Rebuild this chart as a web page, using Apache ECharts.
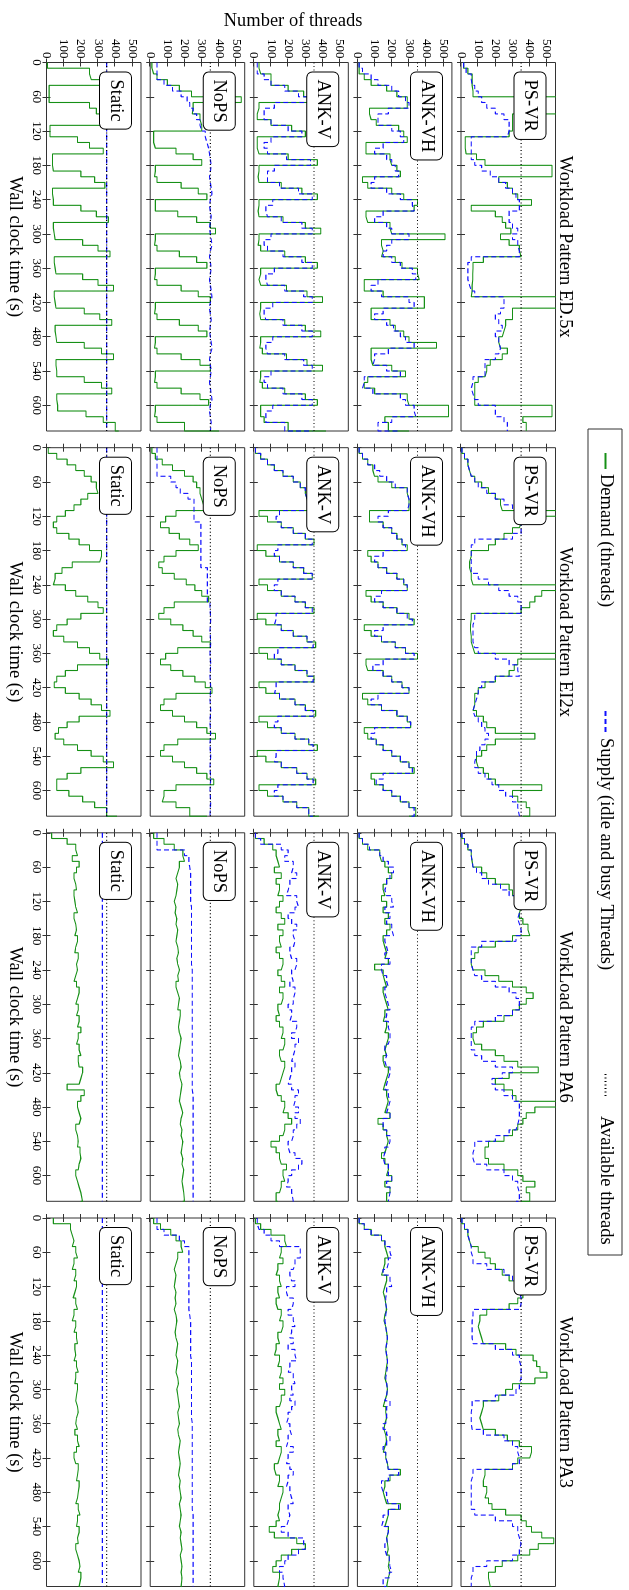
<!DOCTYPE html>
<html>
<head>
<meta charset="utf-8">
<script src="https://cdn.jsdelivr.net/npm/echarts@6/dist/echarts.min.js"></script>
<style>
  html, body { margin: 0; padding: 0; background: #fff; overflow: hidden; }
  body { width: 629px; height: 1590px; position: relative; }
  /* the figure is drawn landscape and turned a quarter clockwise */
  #main {
    position: absolute; left: 0; top: 0;
    width: 1590px; height: 629px;
    transform-origin: 0 0;
    transform: translate(629px, 0) rotate(90deg);
  }
</style>
</head>
<body>
<div id="main"></div>
<script>
// sample times (s)
const seconds = [0,10,20,30,40,50,60,70,80,90,
  100,110,120,130,140,150,160,170,180,190,
  200,210,220,230,240,250,260,270,280,290,
  300,310,320,330,340,350,360,370,380,390,
  400,410,420,430,440,450,460,470,480,490,
  500,510,520,530,540,550,560,570,580,590,
  600,610,620,630,645];
const timeTicks = [0,60,120,180,240,300,360,420,480,540,600];
const threadTicks = [0,100,200,300,400,500];
const lineTimes = [0, 645];
const availableThreads = [350, 350];
const staticSupplyED = [350, 350];
const staticSupplyEI = [350, 350];
const staticSupplyPA6 = [325, 325];
const staticSupplyPA3 = [325, 325];

const patterns = ['Workload Pattern ED.5x', 'Workload Pattern EI2x', 'WorkLoad Pattern PA6', 'WorkLoad Pattern PA3'];
const strategies = ['PS-VR', 'ANK-VH', 'ANK-V', 'NoPS', 'Static'];

// ---- Workload Pattern ED.5x
const edPsvrDemand = [15,40,65,65,70,70,560,560,560,300, 300,300,280,25,25,30,90,140,530,530,
  220,270,300,330,410,60,200,240,260,290, 230,280,340,350,130,70,68,68,65,65,
  60,560,560,300,300,260,250,240,220,230, 270,240,170,150,140,100,80,80,80,80, 530,530,360,380,380];
const edPsvrSupply = [15,30,60,65,80,100,120,150,200,250, 280,280,270,60,60,60,60,80,120,170,
  220,260,300,320,340,340,280,280,300,330, 300,330,340,340,60,40,40,40,50,60,
  80,250,250,230,200,220,240,200,220,230, 220,200,140,140,140,70,60,70,80,100, 200,200,250,270,270];
const edAnkvhDemand = [10,10,40,80,170,230,290,290,70,80, 110,240,270,290,50,50,190,200,230,250,
  30,60,200,270,350,330,50,60,190,200, 510,140,150,140,220,260,350,360,40,40,
  150,390,390,80,80,190,220,270,300,460, 80,80,90,200,280,60,40,100,290,300, 530,530,160,180,300];
const edAnkvhSupply = [10,30,80,120,200,240,280,300,180,120, 120,200,250,270,150,100,170,200,220,240,
  100,80,170,250,320,330,150,100,170,200, 300,200,170,150,200,250,320,340,120,80,
  140,300,330,150,100,170,210,250,280,330, 180,100,90,170,250,40,30,90,250,280, 330,340,200,120,250];
const edAnkvDemand = [30,40,100,100,200,290,380,30,20,20, 100,220,300,20,20,30,200,370,30,25,
  30,160,280,370,30,25,30,170,300,390, 30,25,40,180,300,370,40,30,40,190,
  310,400,40,35,40,180,300,390,40,35, 50,190,310,400,40,35,50,180,300,370, 40,40,60,200,420];
const edAnkvSupply = [20,20,60,100,180,260,320,120,60,60, 100,200,280,100,60,80,190,330,120,80,
  80,150,260,340,110,70,80,160,280,340, 100,60,80,170,280,340,120,70,80,180,
  290,340,110,60,70,170,280,340,110,70, 80,180,290,340,100,60,80,170,280,340, 110,70,70,180,340];
const edNopsDemand = [10,20,40,100,170,240,530,250,245,290, 300,300,20,20,30,150,250,300,30,25,
  40,180,280,330,30,30,160,270,350,380, 30,25,40,170,270,330,30,25,40,180,
  280,350,30,25,40,170,280,330,30,25, 40,180,290,350,30,25,40,180,290,340, 30,25,40,200,400];
const edNopsSupply = [40,40,40,80,130,180,215,230,250,270, 290,300,320,330,340,345,350,355,350,345,
  350,355,360,350,345,350,355,350,345,350, 355,360,350,345,350,355,350,345,350,355,
  360,350,345,350,355,350,345,350,355,360, 350,345,350,355,350,345,350,355,360,350, 345,350,355,350,350];
const edStaticDemand = [5,250,260,330,15,15,15,250,290,320, 340,20,20,180,250,330,35,35,40,200,
  280,340,35,40,40,200,290,360,40,45, 50,210,300,370,45,50,55,210,300,390,
  45,50,55,220,310,380,50,55,60,220, 320,390,55,60,60,220,320,380,60,65, 65,230,330,400,420];

// ---- Workload Pattern EI2x
const eiPsvrDemand = [5,20,40,50,60,80,120,160,200,230, 240,560,350,340,300,250,200,160,60,50,
  50,60,60,70,560,470,430,400,350,60, 55,55,60,60,70,80,560,330,310,280,
  200,140,100,80,80,70,90,130,150,200, 430,200,150,120,90,100,130,160,200,470, 300,330,380,400,360];
const eiPsvrSupply = [5,20,40,50,60,80,100,150,200,250, 300,340,350,350,350,300,80,60,60,60,
  60,60,100,160,220,280,330,350,350,80, 70,70,70,70,80,100,200,280,330,340,
  200,120,100,90,80,70,80,100,120,140, 160,140,110,90,80,80,100,140,180,220, 260,300,330,340,340];
const eiAnkvhDemand = [10,30,60,90,100,120,200,290,300,300, 300,70,70,150,200,230,260,290,60,80,
  120,170,230,270,290,50,80,150,230,300, 330,40,80,140,220,280,350,50,60,150,
  200,260,300,30,60,140,230,290,310,40, 60,110,150,200,250,300,330,80,100,150, 200,250,300,340,300];
const eiAnkvhSupply = [10,30,60,100,130,170,220,290,300,300, 290,180,120,150,200,230,260,280,150,100,
  120,170,230,270,290,140,100,150,230,290, 320,150,100,140,220,280,330,150,90,150,
  200,260,300,120,80,140,230,290,310,100, 80,110,150,200,250,300,320,150,110,150, 200,250,300,330,310];
const eiAnkvDemand = [10,40,80,120,170,230,270,300,310,320, 330,30,80,160,230,300,350,20,70,150,
  230,290,340,30,80,160,240,300,350,20, 70,160,230,310,360,30,80,160,240,310,
  350,30,70,150,240,300,360,30,80,160, 240,320,370,20,70,160,250,310,360,30, 80,170,250,320,380];
const eiAnkvSupply = [10,40,80,120,170,230,270,300,310,320, 330,150,130,160,230,300,340,140,120,150,
  230,290,340,140,120,160,240,300,340,130, 120,160,230,310,345,140,120,160,240,310,
  345,130,120,150,240,300,345,140,120,160, 240,320,345,130,120,160,250,310,345,140, 120,170,250,320,345];
const eiNopsDemand = [10,30,70,130,200,250,270,290,300,310, 320,150,90,60,110,170,230,280,150,80,
  50,70,140,210,260,300,340,140,80,50, 120,190,250,300,350,160,90,60,120,190,
  260,320,360,150,80,60,130,200,270,330, 380,160,80,60,130,200,270,330,370,150, 80,70,150,230,330];
const eiNopsSupply = [40,40,40,40,40,120,150,175,220,255, 255,255,255,295,295,295,295,295,295,295,
  295,333,333,333,333,333,333,348,350,352, 350,348,350,352,350,348,350,352,350,348,
  350,352,350,348,350,352,350,348,350,352, 350,348,350,352,350,348,350,352,350,348, 350,352,350,348,350];
const eiStaticDemand = [10,60,120,170,220,260,290,300,240,200, 160,110,60,40,60,130,190,250,320,310,
  150,90,50,40,110,170,240,300,330,200, 120,60,40,100,180,250,310,360,180,110,
  60,45,110,190,260,320,370,190,120,70, 50,100,180,260,330,390,200,120,60,60, 130,210,280,350,410];

// ---- WorkLoad Pattern PA6
const pa6PsvrDemand = [5,20,40,60,65,70,120,150,200,280, 300,330,350,340,340,360,390,400,300,200,
  100,80,60,70,140,220,300,380,420,380, 340,300,250,130,90,70,80,120,200,250,
  330,450,280,200,250,300,320,560,430,380, 360,330,300,250,160,140,140,160,250,330, 360,430,380,400,350];
const pa6PsvrSupply = [5,20,40,60,65,70,90,120,160,230, 280,320,340,340,330,340,350,350,320,120,
  60,60,60,70,80,120,200,280,320,340, 340,300,200,80,60,60,60,60,80,120,
  200,300,240,180,200,250,300,340,340,340, 330,320,280,200,80,70,70,80,150,250, 300,330,340,340,320];
const pa6AnkvhDemand = [10,30,60,130,140,160,180,200,170,150, 160,140,170,150,180,160,190,170,150,160,
  170,160,180,100,150,160,170,150,160,170, 180,160,150,170,160,180,170,160,170,150,
  160,180,170,160,150,170,180,170,160,190, 120,150,170,180,170,160,140,160,180,170, 200,160,190,170,180];
const pa6AnkvhSupply = [10,30,70,130,150,180,210,190,170,160, 170,200,210,160,190,170,200,210,160,170,
  180,160,190,140,150,170,180,160,170,180, 190,170,160,180,190,190,180,160,170,160,
  170,190,180,170,160,180,190,180,170,190, 150,150,170,190,180,160,150,160,180,180, 200,170,190,180,180];
const pa6AnkvDemand = [10,60,110,130,140,150,120,160,130,150, 140,170,150,130,160,180,140,170,150,160,
  130,150,170,160,140,160,180,150,170,160, 140,150,130,150,170,160,180,170,150,160,
  180,170,160,150,130,140,160,180,170,200, 220,180,170,150,100,130,150,160,190,170, 180,160,150,130,140];
const pa6AnkvSupply = [10,40,160,200,180,230,220,250,210,200, 190,250,260,240,200,220,250,230,240,230,
  210,220,250,240,220,230,210,240,230,230, 200,220,210,250,240,220,260,240,230,220,
  240,220,210,200,220,260,240,230,260,240, 270,250,230,220,200,210,240,280,260,220, 200,190,220,230,210];
const pa6NopsDemand = [20,80,140,190,200,170,160,150,160,155, 150,140,150,145,155,150,160,155,150,160,
  165,155,160,170,160,165,150,160,170,165, 160,175,170,165,170,180,175,170,165,175,
  180,170,175,185,180,175,170,180,190,180, 175,185,180,190,185,180,190,185,195,190, 185,190,195,200,190];
const pa6NopsSupply = [40,40,40,200,225,230,235,235,235,235, 235,235,240,240,240,240,240,240,240,240,
  240,240,240,245,245,245,245,245,245,245, 245,245,245,245,245,245,245,245,245,245,
  245,245,245,245,245,250,250,250,250,250, 250,250,250,250,250,250,250,250,250,250, 250,250,250,250,250];
const pa6StaticDemand = [30,120,170,180,150,190,175,160,170,175, 160,165,170,180,160,170,175,165,180,170,
  165,185,175,180,170,160,175,190,180,170, 185,175,190,180,200,185,175,190,200,185,
  190,210,200,190,120,220,200,180,190,200, 190,170,180,185,180,195,200,190,185,170, 180,190,200,210,200];

// ---- WorkLoad Pattern PA3
const pa3PsvrDemand = [5,20,40,50,60,100,140,170,200,240, 280,320,340,360,330,280,150,110,100,110,
  120,130,260,320,420,440,460,500,430,300, 260,220,130,120,110,120,130,200,270,340,
  410,400,330,300,140,130,130,150,140,160, 180,260,350,380,410,470,540,450,400,330, 240,200,160,170,180];
const pa3PsvrSupply = [5,20,40,50,60,60,70,70,150,250, 300,330,340,350,350,340,70,65,65,65,
  65,70,200,300,340,350,350,350,340,340, 320,200,65,60,60,60,65,130,250,300,
  330,340,340,300,70,60,60,60,60,60, 60,80,200,300,330,340,350,340,340,300, 150,70,60,60,60];
const pa3AnkvhDemand = [10,40,80,140,160,170,180,160,150,140, 170,160,150,160,165,170,160,155,165,170,
  175,170,165,170,175,170,165,160,170,175, 170,160,150,165,170,160,155,165,170,160,
  150,165,175,180,250,190,160,150,160,170, 250,180,170,160,180,170,175,180,170,185, 180,190,180,170,180];
const pa3AnkvhSupply = [10,40,80,140,160,190,200,180,170,150, 190,200,170,165,165,170,165,160,165,170,
  175,170,165,170,175,175,170,165,170,175, 170,160,190,170,170,165,150,170,190,170,
  150,165,175,180,240,180,140,150,170,180, 240,180,150,140,180,170,175,160,170,185, 190,200,185,150,170];
const pa3AnkvDemand = [10,40,100,180,190,160,150,170,140,130, 150,160,140,150,130,140,160,150,170,160,
  140,150,130,120,150,140,160,150,170,150, 180,160,150,130,140,150,160,140,150,130,
  160,150,140,120,130,150,140,170,160,150, 150,140,150,130,90,120,250,300,220,160, 130,110,150,140,150];
const pa3AnkvSupply = [20,30,60,100,150,270,270,240,230,210, 220,240,190,200,230,220,200,230,240,220,
  210,230,200,240,250,210,200,230,240,220, 230,210,240,220,200,190,210,220,200,190,
  230,200,190,210,230,200,190,210,220,230, 200,210,200,190,160,200,290,300,260,200, 180,150,170,180,170];
const pa3NopsDemand = [20,60,120,150,180,190,160,150,140,150, 145,140,150,145,150,140,150,155,150,145,
  150,160,155,150,160,155,150,160,165,155, 160,165,170,160,165,170,160,165,175,170,
  165,170,175,170,165,175,170,175,180,170, 175,180,175,170,180,175,180,185,175,180, 185,180,185,180,185];
const pa3NopsSupply = [40,40,80,170,200,225,225,225,225,225, 225,225,225,225,225,225,230,235,235,235,
  235,235,235,235,240,240,240,240,240,240, 240,240,240,240,240,245,245,245,245,245,
  245,245,245,245,245,245,245,245,245,245, 245,250,250,250,250,250,250,250,250,250, 250,250,250,250,250];
const pa3StaticDemand = [40,140,150,160,150,170,180,160,150,170, 160,175,165,155,170,180,160,150,170,160,
  175,180,165,170,160,175,185,170,165,180, 175,170,180,185,175,170,180,165,180,190,
  175,160,170,185,180,175,190,185,180,170, 185,195,180,175,190,180,185,170,180,190, 195,185,200,190,200];

// [column][row] -> demand, supply, supply times
const panels = [
  [[edPsvrDemand, edPsvrSupply], [edAnkvhDemand, edAnkvhSupply], [edAnkvDemand, edAnkvSupply],
   [edNopsDemand, edNopsSupply], [edStaticDemand, staticSupplyED, lineTimes]],
  [[eiPsvrDemand, eiPsvrSupply], [eiAnkvhDemand, eiAnkvhSupply], [eiAnkvDemand, eiAnkvSupply],
   [eiNopsDemand, eiNopsSupply], [eiStaticDemand, staticSupplyEI, lineTimes]],
  [[pa6PsvrDemand, pa6PsvrSupply], [pa6AnkvhDemand, pa6AnkvhSupply], [pa6AnkvDemand, pa6AnkvSupply],
   [pa6NopsDemand, pa6NopsSupply], [pa6StaticDemand, staticSupplyPA6, lineTimes]],
  [[pa3PsvrDemand, pa3PsvrSupply], [pa3AnkvhDemand, pa3AnkvhSupply], [pa3AnkvDemand, pa3AnkvSupply],
   [pa3NopsDemand, pa3NopsSupply], [pa3StaticDemand, staticSupplyPA3, lineTimes]]
];

// layout of the landscape figure (before turning)
const FONT = '"Liberation Serif", "Times New Roman", serif';
const colLeft = [62.5, 447.7, 832.8, 1218];
const rowTop = [73.5, 177.1, 280.7, 384.3, 488];
const panelW = 368.5, panelH = 94.5;
const T_MAX = 645, Y_MAX = 550;

const pairs = (xs, ys) => xs.map((x, k) => [x, ys[k]]);

let grids = [], xAxes = [], yAxes = [], series = [], graphics = [];

panels.forEach((col, c) => {
  col.forEach((p, r) => {
    const g = grids.length;
    grids.push({
      left: colLeft[c], top: rowTop[r], width: panelW, height: panelH,
      show: true, borderColor: '#333', borderWidth: 1, backgroundColor: '#fff'
    });
    const bottomRow = r === 4, firstCol = c === 0;
    // time axis (bottom) + mirror (top)
    xAxes.push({
      gridIndex: g, type: 'value', min: 0, max: T_MAX, interval: 60, position: 'bottom',
      axisLine: { show: false }, splitLine: { show: false },
      axisTick: { inside: true, length: 4, lineStyle: { color: '#333' }, customValues: timeTicks },
      axisLabel: { show: bottomRow, customValues: timeTicks, margin: 4,
        color: '#000', fontSize: 13, fontFamily: FONT }
    });
    xAxes.push({
      gridIndex: g, type: 'value', min: 0, max: T_MAX, interval: 60, position: 'top',
      axisLine: { show: false }, splitLine: { show: false }, axisLabel: { show: false },
      axisTick: { inside: true, length: 4, lineStyle: { color: '#333' }, customValues: timeTicks }
    });
    // threads axis (left) + mirror (right)
    yAxes.push({
      gridIndex: g, type: 'value', min: 0, max: Y_MAX, interval: 100, position: 'left',
      axisLine: { show: false }, splitLine: { show: false },
      axisTick: { inside: true, length: 4, lineStyle: { color: '#333' }, customValues: threadTicks },
      axisLabel: { show: firstCol, customValues: threadTicks, margin: 4,
        color: '#000', fontSize: 13, fontFamily: FONT }
    });
    yAxes.push({
      gridIndex: g, type: 'value', min: 0, max: Y_MAX, interval: 100, position: 'right',
      axisLine: { show: false }, splitLine: { show: false }, axisLabel: { show: false },
      axisTick: { inside: true, length: 4, lineStyle: { color: '#333' }, customValues: threadTicks }
    });
    const ax = { xAxisIndex: 2 * g, yAxisIndex: 2 * g };
    series.push(Object.assign({
      type: 'line', name: 'Demand (threads)', step: 'end', symbol: 'none', z: 3,
      data: pairs(seconds, p[0]),
      lineStyle: { color: '#169016', width: 1.1 }, itemStyle: { color: '#169016' }
    }, ax));
    series.push(Object.assign({
      type: 'line', name: 'Supply (idle and busy Threads)', step: 'end', symbol: 'none', z: 4,
      data: pairs(p[2] || seconds, p[1]),
      lineStyle: { color: '#1010ff', width: 1.1, type: [5, 3] }, itemStyle: { color: '#1010ff' }
    }, ax));
    series.push(Object.assign({
      type: 'line', name: 'Available threads', symbol: 'none', z: 5,
      data: pairs(lineTimes, availableThreads),
      lineStyle: { color: '#000', width: 1.1, type: [1, 2.5] }, itemStyle: { color: '#000' }
    }, ax));
    // strategy label box
    graphics.push({
      type: 'text', x: colLeft[c] + 10, y: rowTop[r] + 10, z: 20,
      style: { text: strategies[r], font: '18.5px ' + FONT, fill: '#000',
        backgroundColor: '#fff', borderColor: '#000', borderWidth: 1, borderRadius: 5,
        padding: [6, 7, 6, 7], lineHeight: 19 }
    });
  });
  // column title and time axis name
  graphics.push({
    type: 'text', x: colLeft[c] + panelW / 2, y: 64, z: 20,
    style: { text: patterns[c], font: '18.5px ' + FONT, fill: '#000', align: 'center', verticalAlign: 'middle' }
  });
  graphics.push({
    type: 'text', x: colLeft[c] + panelW / 2, y: 614, z: 20,
    style: { text: 'Wall clock time (s)', font: '18.5px ' + FONT, fill: '#000', align: 'center', verticalAlign: 'middle' }
  });
});

graphics.push({
  type: 'text', x: 21, y: 336, rotation: Math.PI / 2, z: 20,
  style: { text: 'Number of threads', font: '18.5px ' + FONT, fill: '#000', align: 'center', verticalAlign: 'middle' }
});
// legend frame
graphics.push({
  type: 'rect', z: 1, shape: { x: 429, y: 7, width: 826, height: 34 },
  style: { fill: '#fff', stroke: '#333', lineWidth: 1 }
});

const legendText = { fontSize: 18.5, fontFamily: FONT, color: '#000' };
const legends = [
  { data: ['Demand (threads)'], left: 452, itemWidth: 16 },
  { data: ['Supply (idle and busy Threads)'], left: 710, itemWidth: 22 },
  { data: ['Available threads'], left: 1073, itemWidth: 22, textPad: 15 }
].map(l => ({
  data: l.data, left: l.left, top: 14, padding: 0, itemWidth: l.itemWidth, itemHeight: 10,
  itemGap: 0, z: 10, selectedMode: false,
  itemStyle: { opacity: 0, borderWidth: 0 },
  textStyle: Object.assign({ padding: [0, 0, 0, l.textPad || 0] }, legendText)
}));

const chart = echarts.init(document.getElementById('main'), null, { renderer: 'canvas' });
chart.setOption({
  animation: false,
  backgroundColor: '#fff',
  grid: grids,
  xAxis: xAxes,
  yAxis: yAxes,
  legend: legends,
  series: series,
  graphic: { elements: graphics }
});
</script>
</body>
</html>
